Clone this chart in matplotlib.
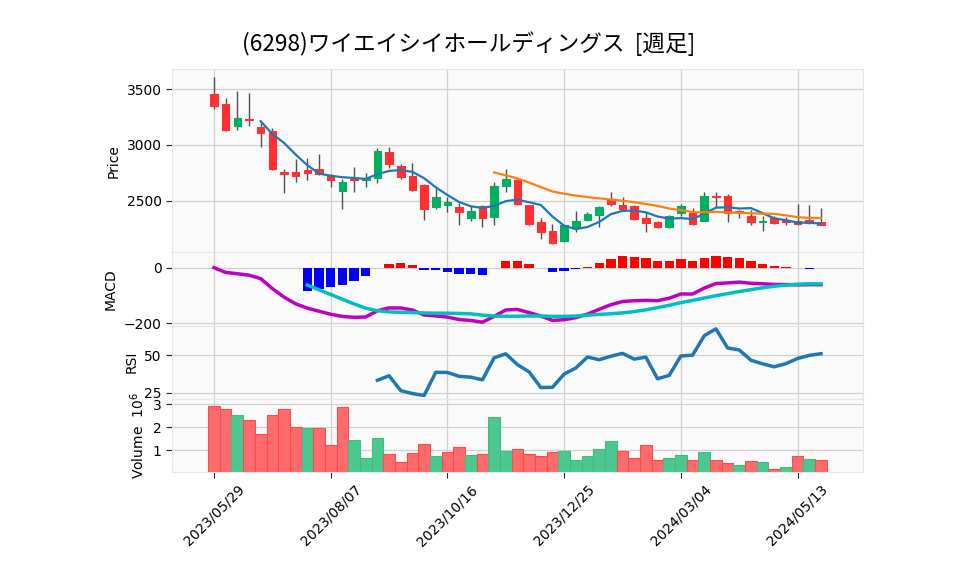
import numpy as np
import pandas as pd
import matplotlib
matplotlib.use('Agg')
import matplotlib.pyplot as plt
from matplotlib.ticker import MultipleLocator, FuncFormatter

plt.rcParams['font.family'] = ['DejaVu Sans', 'Noto Sans CJK JP']

title = '(6298)ワイエイシイホールディングス  [週足]'

# 週足データ (2023/05/29 から 53 週)
dates = pd.date_range('2023-05-29', periods=53, freq='7D')
opens = [3455, 3366, 3172, 3232, 3160, 3125, 2756, 2760, 2777, 2786,
         2726, 2583, 2690, 2682, 2703, 2935, 2812, 2723, 2643, 2440,
         2458, 2446, 2342, 2450, 2351, 2634, 2687, 2461, 2310, 2229,
         2137, 2253, 2327, 2372, 2515, 2461, 2452, 2348, 2313, 2262,
         2387, 2390, 2322, 2545, 2545, 2411, 2366, 2307, 2342, 2324,
         2319, 2324, 2310]
highs = [3605, 3417, 3485, 3461, 3200, 3150, 2785, 2872, 2878, 2917,
         2735, 2690, 2801, 2747, 2970, 2979, 2828, 2836, 2652, 2628,
         2536, 2479, 2450, 2460, 2664, 2783, 2690, 2465, 2342, 2292,
         2285, 2405, 2396, 2450, 2578, 2530, 2460, 2399, 2320, 2370,
         2473, 2435, 2578, 2578, 2560, 2420, 2420, 2360, 2360, 2351,
         2470, 2461, 2435]
lows = [3320, 3122, 3131, 3167, 2979, 2775, 2570, 2670, 2681, 2730,
        2622, 2425, 2578, 2625, 2658, 2792, 2694, 2583, 2327, 2422,
        2399, 2286, 2315, 2268, 2286, 2580, 2460, 2280, 2160, 2113,
        2130, 2220, 2320, 2265, 2450, 2405, 2325, 2220, 2255, 2258,
        2366, 2285, 2318, 2441, 2310, 2342, 2280, 2226, 2290, 2280,
        2285, 2290, 2278]
closes = [3350, 3137, 3241, 3222, 3110, 2780, 2735, 2718, 2744, 2735,
          2685, 2670, 2682, 2703, 2946, 2833, 2708, 2600, 2422, 2536,
          2488, 2395, 2411, 2342, 2634, 2696, 2467, 2290, 2220, 2119,
          2280, 2319, 2384, 2446, 2467, 2428, 2333, 2304, 2262, 2366,
          2455, 2289, 2545, 2530, 2390, 2396, 2307, 2319, 2297, 2307,
          2289, 2301, 2280]
volumes = [2940000, 2770000, 2520000, 2300000, 1700000, 2520000, 2770000, 1990000, 1960000, 1960000,
           1220000, 2860000, 1430000, 680000, 1510000, 830000, 480000, 870000, 1290000, 740000,
           910000, 1120000, 780000, 830000, 2450000, 950000, 1060000, 850000, 760000, 910000,
           980000, 590000, 760000, 1060000, 1420000, 950000, 680000, 1210000, 590000, 650000,
           780000, 590000, 910000, 560000, 430000, 350000, 520000, 480000, 170000, 260000,
           740000, 600000, 560000]

df = pd.DataFrame({'Open': opens, 'High': highs, 'Low': lows,
                   'Close': closes, 'Volume': volumes}, index=dates)

# 指標
ma5 = df['Close'].rolling(5).mean()
ma25 = df['Close'].rolling(25).mean()
exp12 = df['Close'].ewm(span=12, adjust=False).mean()
exp26 = df['Close'].ewm(span=26, adjust=False).mean()
macd = exp12 - exp26
signal = macd.rolling(9).mean()
hist = macd - signal
diff = df['Close'].diff()
up = diff.clip(lower=0).rolling(14).mean()
down = (-diff.clip(upper=0)).rolling(14).mean()
rsi = 100 * up / (up + down)

x = np.arange(len(df))
up_c, down_c = '#00b060', '#fe3032'
vol_up, vol_down = '#4dc790', '#fd6b6c'

fig = plt.figure(figsize=(9.58, 5.75), dpi=100)
gs = fig.add_gridspec(4, 1, height_ratios=[5, 2, 2, 2], hspace=0,
                      left=0.1795, right=0.9008, top=0.88, bottom=0.179)
ax1 = fig.add_subplot(gs[0])
ax2 = fig.add_subplot(gs[1], sharex=ax1)
ax3 = fig.add_subplot(gs[2], sharex=ax1)
ax4 = fig.add_subplot(gs[3], sharex=ax1)

for ax in (ax1, ax2, ax3, ax4):
    ax.set_facecolor('#fafafa')
    ax.grid(True, color='#d0d0d0', lw=0.9)
    ax.set_axisbelow(True)
    for s in ax.spines.values():
        s.set_color('#e6e6e6')
    ax.tick_params(labelsize=10, color='#222222', length=4)

# ローソク足
for i in x:
    o, h, l, c = opens[i], highs[i], lows[i], closes[i]
    col = up_c if c >= o else down_c
    ax1.vlines(i, l, h, color='#505050', lw=1, zorder=2)
    ax1.bar(i, abs(c - o), bottom=min(o, c), width=0.65, color=col,
            edgecolor=col, lw=0.8, zorder=3)
ax1.plot(x, ma5, color='#1f77b4', lw=1.6, zorder=4)
ax1.plot(x, ma25, color='#ff7f0e', lw=1.6, zorder=4)
rng = max(highs) - min(lows)
ax1.set_ylim(min(lows) - 0.05 * rng, max(highs) + 0.05 * rng)
ax1.yaxis.set_major_locator(MultipleLocator(500))
ax1.set_ylabel('Price')

# MACD
hcol = ['red' if v >= 0 else 'blue' for v in hist.fillna(0)]
ax2.bar(x, hist, width=0.8, color=hcol, zorder=2)
ax2.plot(x, macd, color='m', lw=2.5, zorder=3)
ax2.plot(x, signal, color='c', lw=2.5, zorder=4)
ax2.yaxis.set_major_locator(MultipleLocator(200))
ax2.set_ylabel('MACD')

# RSI
ax3.plot(x, rsi, color='#1f77b4', lw=2.5)
ax3.yaxis.set_major_locator(MultipleLocator(25))
ax3.set_ylabel('RSI')

# 出来高 (前週終値比で色分け)
prev = [opens[0]] + closes[:-1]
vcol = [vol_up if closes[i] >= prev[i] else vol_down for i in x]
ecol = ['#3cbf80' if closes[i] >= prev[i] else '#fd4a4c' for i in x]
ax4.bar(x, volumes, width=1.0, color=vcol, edgecolor=ecol, lw=0.8)
ax4.set_ylim(0.3 * min(volumes), 1.1 * max(volumes))
ax4.yaxis.set_major_locator(MultipleLocator(1e6))
ax4.yaxis.set_major_formatter(FuncFormatter(lambda v, p: f'{v / 1e6:g}'))
ax4.set_ylabel('Volume  $10^6$')

ticks = x[::10]
ax4.set_xticks(ticks)
ax4.set_xticklabels([d.strftime('%Y/%m/%d') for d in dates[::10]], rotation=45)
ax1.set_xlim(-3.6, 55.6)
for ax in (ax1, ax2, ax3):
    ax.tick_params(axis='x', bottom=False, labelbottom=False)

fig.text(469 / 958, 1 - 44 / 575, title, ha='center', va='center',
         fontsize=16.3, family=['Noto Sans CJK JP', 'DejaVu Sans'])

fig.savefig('out.png', dpi=100)
